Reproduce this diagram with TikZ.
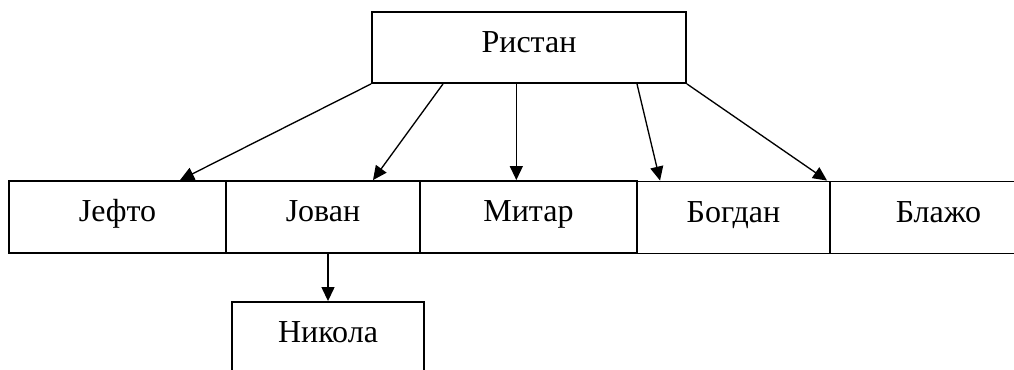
\documentclass[tikz,border=0pt]{standalone}
\usepackage{fontspec}
\setmainfont{Liberation Serif}
\usepackage{tikz}
\usetikzlibrary{arrows.meta}
\tikzstyle{personBox}=[shape = rectangle, draw, line width = 1.4pt, inner sep = 0pt, minimum height = 54pt, text height = 16pt, text depth = 9pt, font = \fontsize{24}{28}\selectfont]
\tikzstyle{childArrow}=[line width = 1pt, -{Triangle[length = 10.5pt, width = 9.75pt]}]

\begin{document}
\begin{tikzpicture}[x = 0.75pt, y = -0.75pt]
\useasboundingbox (0,0) rectangle (1014,370);
\node[personBox, minimum width = 235.5pt, minimum height = 53.25pt] (ristan) at (529, 47.5) {Ристан};
\node[personBox, minimum width = 162.75pt] (jefto) at (117.5, 217) {Јефто};
\node[personBox, minimum width = 145.5pt] (jovan) at (323, 217) {Јован};
\node[personBox, minimum width = 162.75pt] (mitar) at (528.5, 217) {Митар};
\node[personBox, minimum width = 144.75pt] (bogdan) at (733.5, 217.5) {Богдан};
\node[personBox, minimum width = 162.75pt] (blazho) at (938.5, 217.5) {Блажо};
\node[personBox, minimum width = 144pt] (nikola) at (328, 338) {Никола};
\draw[childArrow] (ristan.south west) -- ([xshift = 46.9pt]jefto.north);
\draw[childArrow] ([xshift = -64.5pt]ristan.south) -- ([xshift = 37.5pt]jovan.north);
\draw[childArrow] ([xshift = -9.5pt]ristan.south) -- ([xshift = -9.5pt]ristan.south |- mitar.north);
\draw[childArrow] ([xshift = 81pt]ristan.south) -- ([xshift = -55.1pt]bogdan.north);
\draw[childArrow] (ristan.south east) -- ([xshift = -1.5pt]blazho.north west);
\draw[childArrow] ([xshift = 3.75pt]jovan.south) -- (nikola.north);
\end{tikzpicture}
\end{document}
